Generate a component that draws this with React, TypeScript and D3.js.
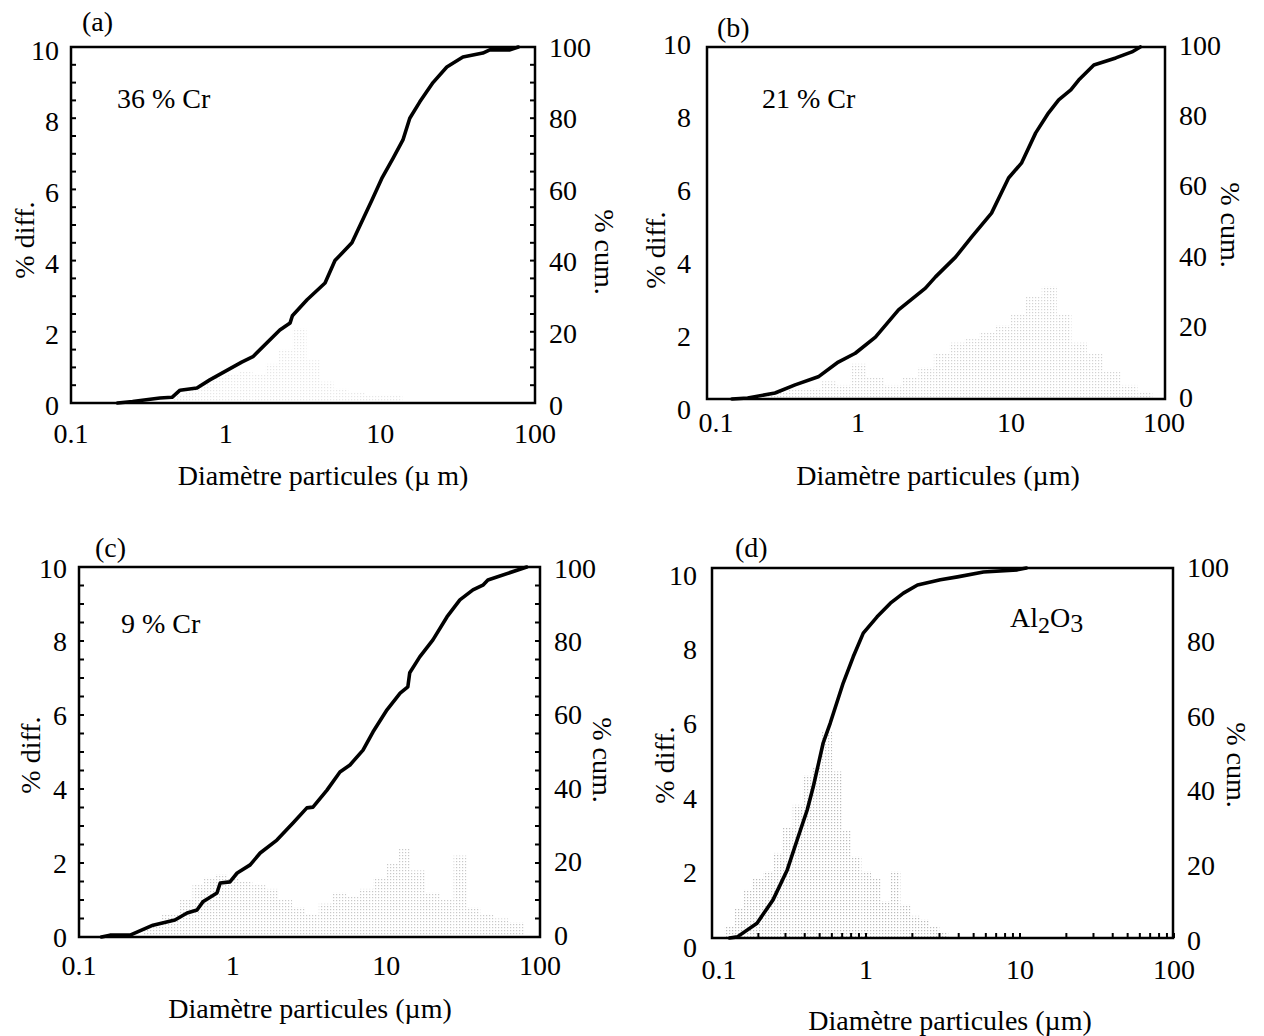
import React from "react";
import * as d3 from "d3";

// ---------- data ----------
const xTickValues = [0.1, 1, 10, 100];
const xTickLabels = ["0.1", "1", "10", "100"];
const diffTicks = [0, 2, 4, 6, 8, 10];
const cumTicks = [0, 20, 40, 60, 80, 100];

// (a) 36 % Cr
const aCumD = [0.2, 0.25, 0.376, 0.45, 0.507, 0.652, 0.79, 1.27, 1.5, 2.24, 2.61, 2.7, 3.36, 4.39, 5.09, 6.55, 7.16, 8.83, 10.2, 12.1, 14.0, 15.5, 18.0, 21.9, 26.9, 34.2, 46, 51, 68.9, 78];
const aCumV = [0, 0.4, 1.4, 1.6, 3.6, 4.2, 6.5, 11.5, 13, 20.5, 22.5, 24.5, 29, 33.7, 40, 45, 48.6, 57, 63, 68.8, 73.9, 80, 84.6, 90, 94.4, 97.2, 98.3, 99.2, 99.2, 100];
const aHistD = [0.5, 0.6, 0.75, 0.9, 1.1, 1.35, 1.65, 2.0, 2.45, 3.0, 3.7, 4.5, 5.5, 7, 9, 12];
const aHistV = [0.2, 0.4, 0.6, 0.7, 0.8, 0.9, 0.8, 1.1, 1.5, 2.1, 1.2, 0.6, 0.4, 0.3, 0.2, 0.2];

// (b) 21 % Cr
const bCumD = [0.15, 0.19, 0.287, 0.388, 0.55, 0.743, 0.96, 1.3, 1.84, 2.76, 3.21, 4.34, 5.52, 7.46, 9.64, 11.7, 14.5, 17.6, 20.5, 24.6, 27.7, 34.8, 48.4, 61.7, 70];
const bCumV = [0, 0.3, 1.7, 4, 6.3, 10.5, 13, 17.6, 25.3, 31.5, 34.7, 40.3, 46, 52.8, 62.8, 67, 75.6, 81.3, 85, 87.8, 90.6, 94.9, 96.9, 98.6, 100];
const bHistD = [0.3, 0.4, 0.5, 0.65, 0.8, 1.0, 1.3, 1.7, 2.2, 2.8, 3.5, 4.5, 5.5, 7, 9, 11, 14, 18, 22, 28, 35, 45, 60, 75];
const bHistV = [0.2, 0.3, 0.3, 0.5, 0.4, 1.0, 0.6, 0.4, 0.6, 0.9, 1.3, 1.6, 1.7, 1.9, 2.1, 2.4, 2.9, 3.2, 2.4, 1.6, 1.3, 0.8, 0.4, 0.2];

// (c) 9 % Cr
const cCumD = [0.14, 0.159, 0.215, 0.303, 0.421, 0.505, 0.586, 0.64, 0.79, 0.83, 0.96, 1.07, 1.3, 1.51, 1.94, 2.47, 3.04, 3.33, 4.11, 4.99, 5.8, 7.05, 8.18, 10.1, 12.3, 13.8, 14.2, 16.5, 20.1, 24.8, 30.1, 36.6, 42.5, 45.8, 82];
const cCumV = [0, 0.5, 0.5, 3.2, 4.6, 6.5, 7.3, 9.5, 11.9, 14.6, 14.9, 17.3, 19.5, 22.7, 26.2, 30.8, 34.9, 35.1, 39.7, 44.6, 46.5, 50.5, 55.4, 61.4, 65.9, 67.6, 71.4, 75.7, 80.3, 86.5, 91.1, 93.8, 95.1, 96.5, 100];
const cHistD = [0.3, 0.4, 0.5, 0.6, 0.7, 0.85, 1.0, 1.2, 1.5, 1.8, 2.2, 2.7, 3.3, 4, 5, 6, 7.5, 9, 11, 13, 16, 20, 25, 30, 37, 45, 55, 70];
const cHistV = [0.3, 0.6, 1.0, 1.4, 1.6, 1.7, 1.6, 1.5, 1.4, 1.3, 1.0, 0.8, 0.6, 0.9, 1.2, 1.1, 1.3, 1.6, 2.0, 2.4, 1.8, 1.2, 1.0, 2.2, 0.8, 0.6, 0.5, 0.4];

// (d) Al2O3
const dCumD = [0.13, 0.146, 0.196, 0.249, 0.308, 0.357, 0.415, 0.454, 0.527, 0.586, 0.711, 0.826, 0.96, 1.18, 1.44, 1.75, 2.16, 3.04, 3.93, 5.79, 9.6, 11];
const dCumV = [0, 0.3, 4, 10.3, 18.4, 26.5, 34.6, 40.8, 52.7, 58.1, 68.9, 76, 82.4, 86.8, 90.5, 93.2, 95.4, 96.8, 97.6, 98.9, 99.5, 100];
const dHistD = [0.13, 0.15, 0.17, 0.2, 0.23, 0.27, 0.31, 0.36, 0.42, 0.48, 0.56, 0.65, 0.75, 0.87, 1.0, 1.16, 1.34, 1.55, 1.8, 2.1, 2.4, 2.8, 3.2];
const dHistV = [0.3, 0.8, 1.3, 1.6, 1.8, 2.3, 3.0, 3.6, 4.4, 4.6, 5.6, 4.5, 2.9, 2.2, 1.8, 1.6, 1.0, 1.8, 0.9, 0.6, 0.5, 0.3, 0.15];

// ---------- layout ----------
type Panel = {
  key: string;
  label: string;
  name: string;
  cumD: number[];
  cumV: number[];
  histD: number[];
  histV: number[];
  box: [number, number, number, number]; // left, right, top, bottom
  xRange: [number, number];
  leftLab: [number, number];
  leftLabGap: number;
  rightLab: [number, number];
  xTickY: number;
  firstTickDx: number;
  xTitle: [number, number];
  xTitleText: string;
  tagPos: [number, number];
  namePos: [number, number];
  diffPos: [number, number];
  cumPos: [number, number];
  sideTicks: boolean;
  bottomTicks: boolean;
  dotOpacity: number;
};

const FONT = "'Liberation Serif', 'Times New Roman', Times, serif";

const panels: Panel[] = [
  {
    key: "a", label: "(a)", name: "36 % Cr", cumD: aCumD, cumV: aCumV, histD: aHistD, histV: aHistV,
    box: [71, 535, 47, 403], xRange: [71, 535], leftLab: [405, 50], leftLabGap: 12, rightLab: [405, 47],
    xTickY: 443, firstTickDx: 0, xTitle: [323, 485], xTitleText: "Diamètre particules (\u00b5 m)",
    tagPos: [82, 31], namePos: [117, 108], diffPos: [24, 240], cumPos: [604, 252],
    sideTicks: true, bottomTicks: false, dotOpacity: 0.18,
  },
  {
    key: "b", label: "(b)", name: "21 % Cr", cumD: bCumD, cumV: bCumV, histD: bHistD, histV: bHistV,
    box: [707, 1165, 47, 399], xRange: [705, 1164], leftLab: [409, 44], leftLabGap: 16, rightLab: [397, 45],
    xTickY: 432, firstTickDx: 11, xTitle: [938, 485], xTitleText: "Diamètre particules (\u00b5m)",
    tagPos: [717, 37], namePos: [762, 108], diffPos: [655, 250], cumPos: [1230, 225],
    sideTicks: false, bottomTicks: false, dotOpacity: 0.32,
  },
  {
    key: "c", label: "(c)", name: "9 % Cr", cumD: cCumD, cumV: cCumV, histD: cHistD, histV: cHistV,
    box: [79, 540, 567, 937], xRange: [79, 540], leftLab: [937, 568], leftLabGap: 12, rightLab: [935, 568],
    xTickY: 975, firstTickDx: 0, xTitle: [310, 1018], xTitleText: "Diamètre particules (\u00b5m)",
    tagPos: [95, 557], namePos: [121, 633], diffPos: [30, 755], cumPos: [602, 760],
    sideTicks: true, bottomTicks: false, dotOpacity: 0.4,
  },
  {
    key: "d", label: "(d)", name: "Al2O3", cumD: dCumD, cumV: dCumV, histD: dHistD, histV: dHistV,
    box: [712, 1173, 568, 938], xRange: [712, 1174], leftLab: [947, 575], leftLabGap: 15, rightLab: [940, 567],
    xTickY: 979, firstTickDx: 7, xTitle: [950, 1030], xTitleText: "Diamètre particules (\u00b5m)",
    tagPos: [735, 557], namePos: [1010, 627], diffPos: [664, 765], cumPos: [1236, 765],
    sideTicks: false, bottomTicks: true, dotOpacity: 0.5,
  },
];

function histBars(d: number[], v: number[]) {
  const logs = d.map((x) => Math.log10(x));
  return d.map((_, i) => {
    const prev = i > 0 ? logs[i - 1] : logs[0] - (logs[1] - logs[0]);
    const next = i < logs.length - 1 ? logs[i + 1] : logs[i] + (logs[i] - logs[i - 1]);
    return {
      x0: Math.pow(10, (prev + logs[i]) / 2),
      x1: Math.pow(10, (logs[i] + next) / 2),
      v: v[i],
    };
  });
}

function PanelView({ p }: { p: Panel }) {
  const [L, R, T, B] = p.box;
  const x = d3.scaleLog().domain([0.1, 100]).range(p.xRange);
  const yDiff = d3.scaleLinear().domain([0, 10]).range([B, T]);
  const yCum = d3.scaleLinear().domain([0, 100]).range([B, T]);
  const yDiffLab = d3.scaleLinear().domain([0, 10]).range(p.leftLab);
  const yCumLab = d3.scaleLinear().domain([0, 100]).range(p.rightLab);
  const pts = p.cumD.map((dd, i) => [dd, p.cumV[i]] as [number, number]);
  const line = d3
    .line<[number, number]>()
    .x((q) => x(q[0]))
    .y((q) => yCum(q[1]))
    .curve(d3.curveLinear);
  const bars = histBars(p.histD, p.histV);
  const minorTicks: number[] = [];
  if (p.bottomTicks) {
    [0.1, 1, 10].forEach((dec) => {
      for (let k = 1; k <= 9; k++) minorTicks.push(dec * k);
    });
    minorTicks.push(100);
  }
  const halfTicks = d3.range(1, 20).map((k) => k * 0.5);
  const clipId = `clip-${p.key}`;
  return (
    <g>
      <defs>
        <clipPath id={clipId}>
          <rect x={L} y={T} width={R - L} height={B - T} />
        </clipPath>
      </defs>
      <g clipPath={`url(#${clipId})`} opacity={p.dotOpacity}>
        {bars.map((b, i) => (
          <rect
            key={i}
            x={x(b.x0)}
            y={yDiff(b.v)}
            width={Math.max(0, x(b.x1) - x(b.x0))}
            height={B - yDiff(b.v)}
            fill="url(#dots)"
          />
        ))}
      </g>
      {p.sideTicks &&
        halfTicks.map((t) => (
          <g key={t}>
            <line x1={L} x2={L + 5} y1={yDiff(t)} y2={yDiff(t)} stroke="#000" strokeWidth={2} />
            <line x1={R} x2={R - 5} y1={yDiff(t)} y2={yDiff(t)} stroke="#000" strokeWidth={2} />
          </g>
        ))}
      {minorTicks.map((t, i) => (
        <line key={i} x1={x(t)} x2={x(t)} y1={B} y2={B - 5} stroke="#000" strokeWidth={2} />
      ))}
      <rect x={L} y={T} width={R - L} height={B - T} fill="none" stroke="#000" strokeWidth={2.5} />
      <path d={line(pts) || ""} fill="none" stroke="#000" strokeWidth={3.6} strokeLinejoin="round" strokeLinecap="round" />
      <g fontFamily={FONT} fontSize={28} fill="#000">
        {diffTicks.map((t) => (
          <text key={t} x={L - p.leftLabGap} y={yDiffLab(t)} textAnchor="end" dominantBaseline="central">
            {t}
          </text>
        ))}
        {cumTicks.map((t) => (
          <text key={t} x={R + 14} y={yCumLab(t)} textAnchor="start" dominantBaseline="central">
            {t}
          </text>
        ))}
        {xTickValues.map((t, i) => (
          <text key={t} x={x(t) + (i === 0 ? p.firstTickDx : 0)} y={p.xTickY} textAnchor="middle">
            {xTickLabels[i]}
          </text>
        ))}
        <text x={p.xTitle[0]} y={p.xTitle[1]} textAnchor="middle">
          {p.xTitleText}
        </text>
        <text x={p.tagPos[0]} y={p.tagPos[1]}>{p.label}</text>
        {p.key === "d" ? (
          <text x={p.namePos[0]} y={p.namePos[1]}>
            Al<tspan fontSize={24} dy={6}>2</tspan>
            <tspan dy={-6}>O</tspan>
            <tspan fontSize={26} dy={5}>3</tspan>
          </text>
        ) : (
          <text x={p.namePos[0]} y={p.namePos[1]}>{p.name}</text>
        )}
        <text
          transform={`translate(${p.diffPos[0]},${p.diffPos[1]}) rotate(-90)`}
          textAnchor="middle"
          dominantBaseline="central"
        >
          % diff.
        </text>
        <text
          transform={`translate(${p.cumPos[0]},${p.cumPos[1]}) rotate(90)`}
          textAnchor="middle"
          dominantBaseline="central"
        >
          % cum.
        </text>
      </g>
    </g>
  );
}

export default function App() {
  return (
    <svg
      width={1264}
      height={1036}
      style={{ position: "absolute", left: 0, top: 0, background: "#fff" }}
    >
      <defs>
        <pattern id="dots" width={3} height={3} patternUnits="userSpaceOnUse">
          <rect x={0} y={0} width={1.2} height={1.2} fill="#777" />
        </pattern>
      </defs>
      <rect x={0} y={0} width={1264} height={1036} fill="#fff" />
      {panels.map((p) => (
        <PanelView key={p.key} p={p} />
      ))}
    </svg>
  );
}
